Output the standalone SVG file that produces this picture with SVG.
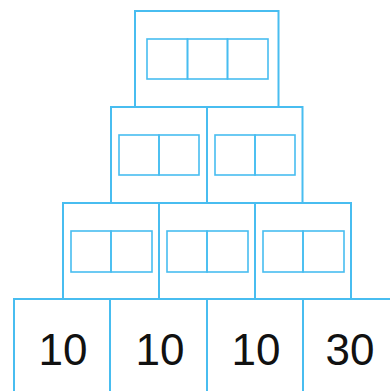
<svg xmlns="http://www.w3.org/2000/svg" width="390" height="391" viewBox="0 0 390 391">
<style>
.box{fill:#fff;stroke:#48bdf0;stroke-width:2}
.cell{fill:none;stroke:#48bdf0;stroke-width:1.6}
.num{font-family:"Liberation Sans",Arial,sans-serif;font-size:44px;fill:#111;text-anchor:middle}
</style>
<rect width="390" height="391" fill="#fff"/>
<g id="top">
<rect class="box" x="135" y="11" width="143.5" height="96"/>
<rect class="cell" x="147" y="39" width="40.5" height="40"/>
<rect class="cell" x="187.5" y="39" width="40" height="40"/>
<rect class="cell" x="227.5" y="39" width="40.5" height="40"/>
</g>
<g id="r2a">
<rect class="box" x="111" y="107" width="96" height="96"/>
<rect class="cell" x="119" y="135" width="40" height="40"/>
<rect class="cell" x="159" y="135" width="40" height="40"/>
</g>
<g id="r2b">
<rect class="box" x="207" y="107" width="95.5" height="96"/>
<rect class="cell" x="215" y="135" width="40" height="40"/>
<rect class="cell" x="255" y="135" width="40" height="40"/>
</g>
<g id="r3a">
<rect class="box" x="63" y="203" width="96" height="96"/>
<rect class="cell" x="71" y="231" width="40" height="41"/>
<rect class="cell" x="111" y="231" width="41" height="41"/>
</g>
<g id="r3b">
<rect class="box" x="159" y="203" width="96" height="96"/>
<rect class="cell" x="167" y="231" width="40" height="41"/>
<rect class="cell" x="207" y="231" width="41" height="41"/>
</g>
<g id="r3c">
<rect class="box" x="255" y="203" width="96" height="96"/>
<rect class="cell" x="263" y="231" width="40" height="41"/>
<rect class="cell" x="303" y="231" width="41" height="41"/>
</g>
<g id="b1">
<rect class="box" x="14" y="299" width="96" height="100"/>
<text class="num" x="63" y="365">10</text>
</g>
<g id="b2">
<rect class="box" x="110" y="299" width="97" height="100"/>
<text class="num" x="160" y="365">10</text>
</g>
<g id="b3">
<rect class="box" x="207" y="299" width="96" height="100"/>
<text class="num" x="256" y="365">10</text>
</g>
<g id="b4">
<rect class="box" x="303" y="299" width="96" height="100"/>
<text class="num" x="350" y="365">30</text>
</g>
<g id="connectors"/>
</svg>
